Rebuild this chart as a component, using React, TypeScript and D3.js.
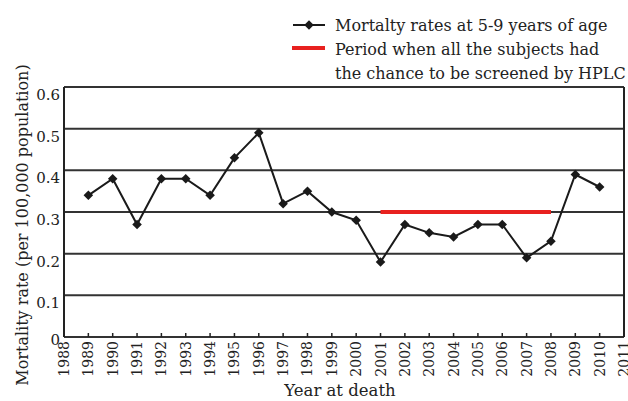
import * as React from 'react';
import * as d3 from 'd3';

const years = [1989, 1990, 1991, 1992, 1993, 1994, 1995, 1996, 1997, 1998, 1999, 2000,
  2001, 2002, 2003, 2004, 2005, 2006, 2007, 2008, 2009, 2010];
const rates = [0.34, 0.38, 0.27, 0.38, 0.38, 0.34, 0.43, 0.49, 0.32, 0.35, 0.30, 0.28,
  0.18, 0.27, 0.25, 0.24, 0.27, 0.27, 0.19, 0.23, 0.39, 0.36];
const periodYears = [2001, 2008];
const periodRate = 0.3;
const yTicks = [0, 0.1, 0.2, 0.3, 0.4, 0.5, 0.6];
const xTicks = d3.range(1988, 2012);
const legendLabels = [
  'Mortalty rates at 5-9 years of age',
  'Period when all the subjects had',
  'the chance to be screened by HPLC',
];

const W = 628;
const H = 401;
const margin = { top: 87, right: 4, bottom: 64, left: 64 };
const FONT = 'DejaVu Serif, serif';

const App: React.FC = () => {
  const x = d3.scaleLinear().domain([1988, 2011]).range([margin.left, W - margin.right]);
  const y = d3.scaleLinear().domain([0, 0.6]).range([H - margin.bottom, margin.top]);

  const line = d3.line<number>()
    .x((_, i) => x(years[i]))
    .y(d => y(d));

  const diamond = d3.symbol().type(d3.symbolDiamond2).size(58)() || '';

  const x0 = x.range()[0];
  const x1 = x.range()[1];
  const yBottom = y(0);
  const yTop = y(0.6);

  return (
    <div style={{ position: 'absolute', left: 0, top: 0 }}>
      <svg width={W} height={H} viewBox={`0 0 ${W} ${H}`} style={{ display: 'block' }} fontFamily={FONT}>
        <rect width={W} height={H} fill="#fff" />

        {/* grid */}
        {yTicks.map(t => (
          <line key={t} x1={x0} x2={x1} y1={y(t)} y2={y(t)} stroke="#333" strokeWidth={2} />
        ))}
        <line x1={x0} x2={x0} y1={yTop} y2={yBottom} stroke="#222" strokeWidth={2} />
        <line x1={x1} x2={x1} y1={yTop} y2={yBottom} stroke="#222" strokeWidth={2} />

        {/* x ticks */}
        {xTicks.map(t => (
          <line key={t} x1={x(t)} x2={x(t)} y1={yBottom} y2={yBottom - 4} stroke="#222" strokeWidth={1.5} />
        ))}

        {/* y tick labels */}
        {yTicks.map(t => (
          <text key={t} x={60} y={y(t) + (t === 0 ? 8 : 13)} textAnchor="end" fontSize={15} fill="#222">
            {t === 0 ? '0' : t.toFixed(1)}
          </text>
        ))}

        {/* x tick labels */}
        {xTicks.map(t => (
          <text key={t} transform={`translate(${x(t) + 5},${yBottom + 4}) rotate(-90)`}
            textAnchor="end" fontSize={14} fill="#222">{t}</text>
        ))}

        {/* period line */}
        <line x1={x(periodYears[0])} x2={x(periodYears[1])} y1={y(periodRate)} y2={y(periodRate)}
          stroke="#e8211f" strokeWidth={4} />

        {/* series */}
        <path d={line(rates) || ''} fill="none" stroke="#1a1a1a" strokeWidth={2} />
        {rates.map((r, i) => (
          <path key={i} d={diamond} transform={`translate(${x(years[i])},${y(r)})`} fill="#1a1a1a" />
        ))}

        {/* axis titles */}
        <text x={340} y={396} textAnchor="middle" fontSize={16.5} fill="#222">Year at death</text>
        <text transform="translate(28,225) rotate(-90)" textAnchor="middle" fontSize={16} fill="#222">
          Mortality rate (per 100,000 population)
        </text>

        {/* legend */}
        <line x1={293} x2={325} y1={25} y2={25} stroke="#1a1a1a" strokeWidth={2} />
        <path d={diamond} transform="translate(309,25)" fill="#1a1a1a" />
        <line x1={292} x2={325} y1={48} y2={48} stroke="#e8211f" strokeWidth={4} />
        {legendLabels.map((l, i) => (
          <text key={i} x={335} y={31 + i * 24} fontSize={16} fill="#222">{l}</text>
        ))}
      </svg>
    </div>
  );
};

export default App;
